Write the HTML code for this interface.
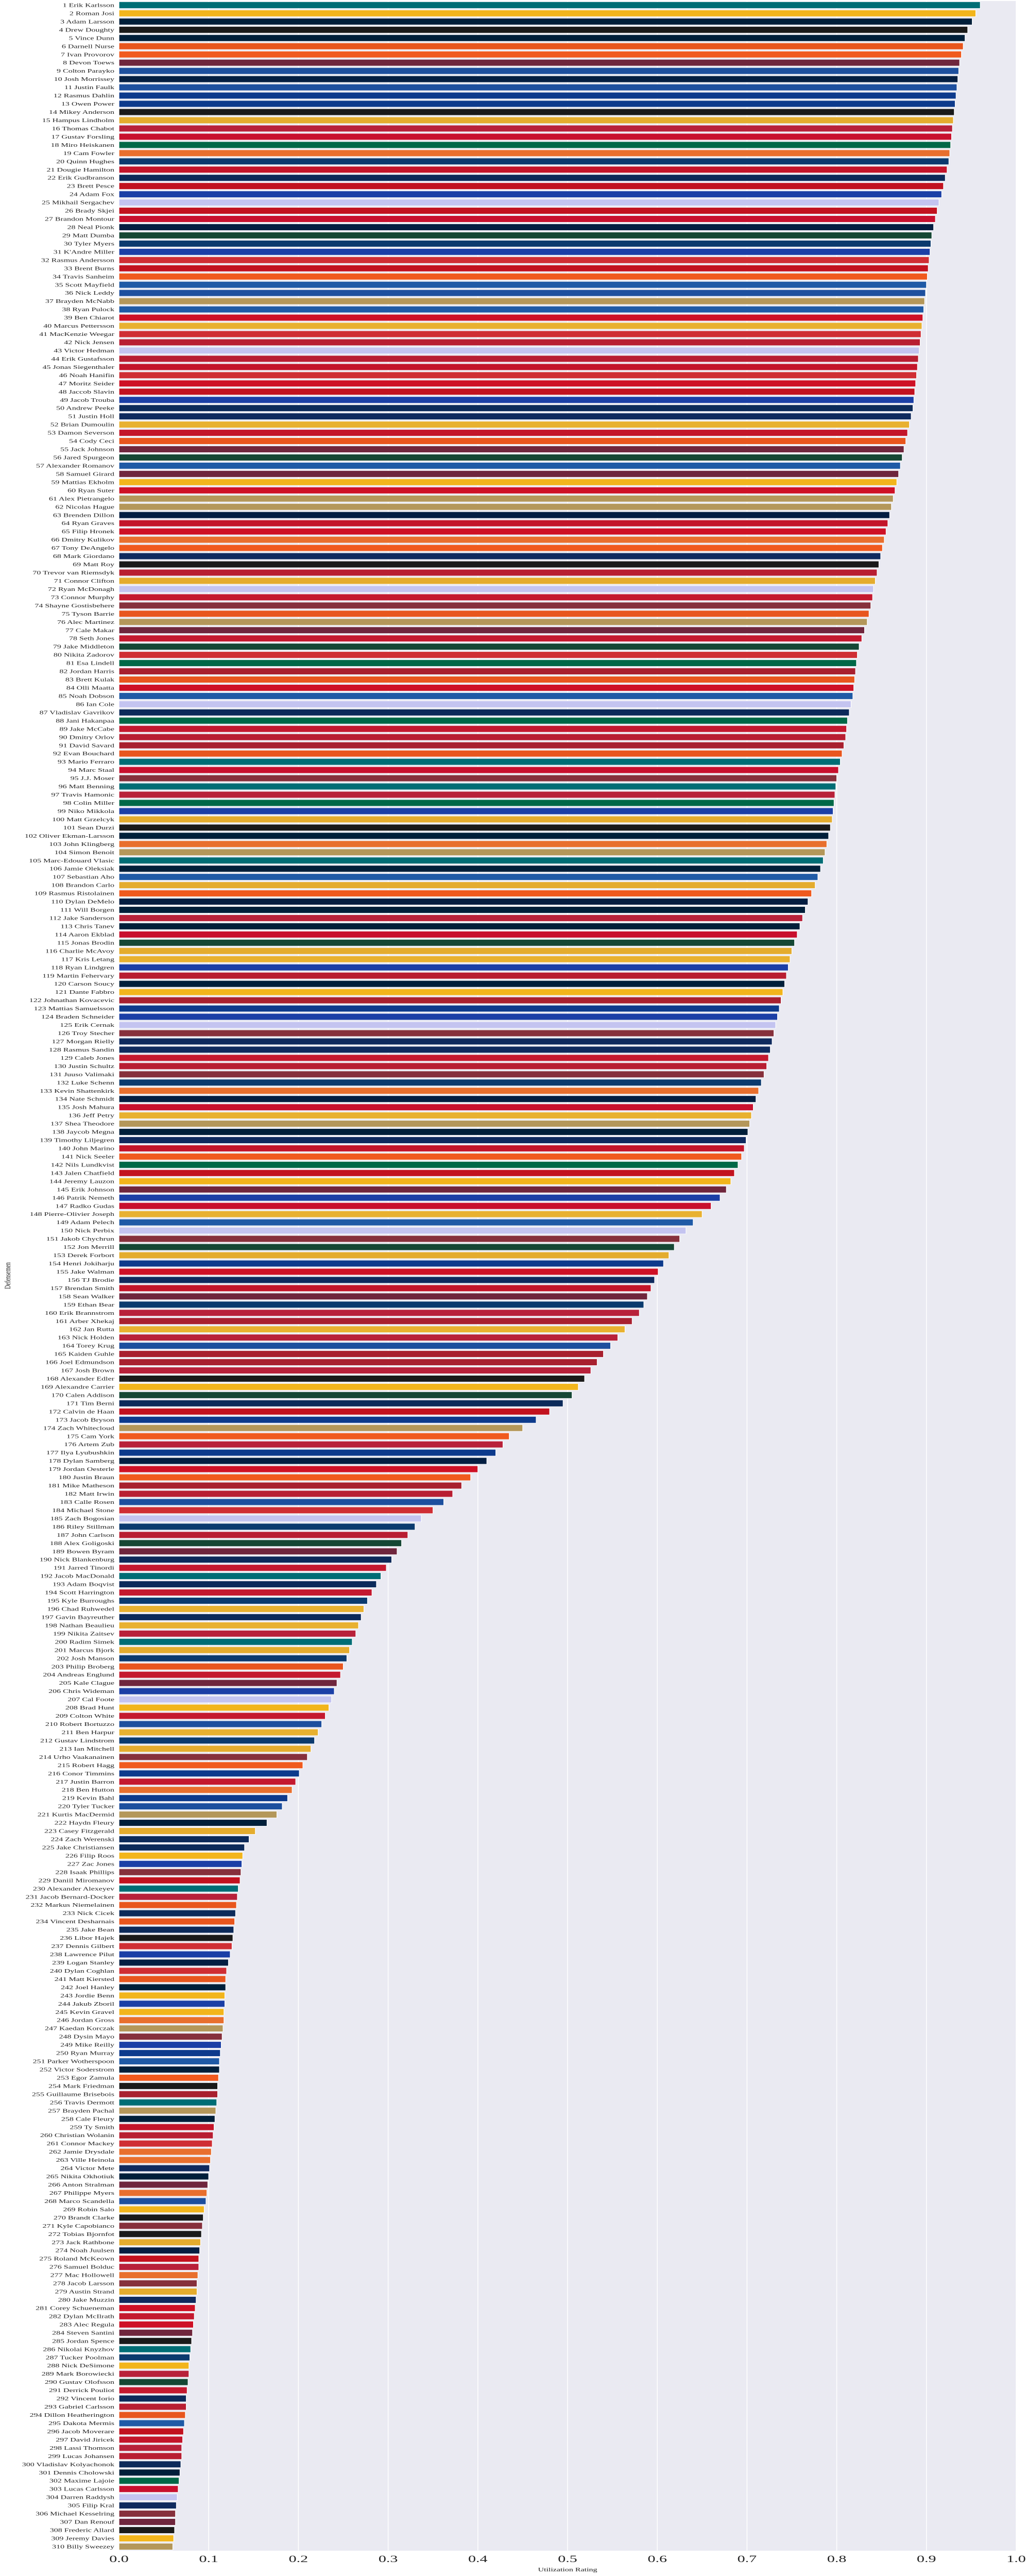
<!DOCTYPE html>
<html><head><meta charset="utf-8">
<style>
html,body{margin:0;padding:0;background:#fff;width:100%;height:100%;overflow:hidden;}
svg{display:block;width:100vw;height:100vh;font-family:"Liberation Serif","Times New Roman",serif;}
</style></head>
<body>
<svg id="chart" xmlns="http://www.w3.org/2000/svg" viewBox="0 0 1994 7734" preserveAspectRatio="none">
<rect x="231" y="3" width="1742" height="7655" fill="#EAEAF2"/>
<g id="grid"></g>
<g id="bars"></g>
<g id="ylabels"></g>
<g id="xticks"></g>
<text x="1102" y="7720" font-size="16" text-anchor="middle" fill="#222">Utilization Rating</text>
<text x="20" y="3830" font-size="16" text-anchor="middle" fill="#222" transform="rotate(-90 20 3830)">Defensemen</text>
</svg>
<script>
const players = ["Erik Karlsson","Roman Josi","Adam Larsson","Drew Doughty","Vince Dunn","Darnell Nurse","Ivan Provorov","Devon Toews","Colton Parayko","Josh Morrissey",
"Justin Faulk","Rasmus Dahlin","Owen Power","Mikey Anderson","Hampus Lindholm","Thomas Chabot","Gustav Forsling","Miro Heiskanen","Cam Fowler","Quinn Hughes",
"Dougie Hamilton","Erik Gudbranson","Brett Pesce","Adam Fox","Mikhail Sergachev","Brady Skjei","Brandon Montour","Neal Pionk","Matt Dumba","Tyler Myers",
"K'Andre Miller","Rasmus Andersson","Brent Burns","Travis Sanheim","Scott Mayfield","Nick Leddy","Brayden McNabb","Ryan Pulock","Ben Chiarot","Marcus Pettersson",
"MacKenzie Weegar","Nick Jensen","Victor Hedman","Erik Gustafsson","Jonas Siegenthaler","Noah Hanifin","Moritz Seider","Jaccob Slavin","Jacob Trouba","Andrew Peeke",
"Justin Holl","Brian Dumoulin","Damon Severson","Cody Ceci","Jack Johnson","Jared Spurgeon","Alexander Romanov","Samuel Girard","Mattias Ekholm","Ryan Suter",
"Alex Pietrangelo","Nicolas Hague","Brenden Dillon","Ryan Graves","Filip Hronek","Dmitry Kulikov","Tony DeAngelo","Mark Giordano","Matt Roy","Trevor van Riemsdyk",
"Connor Clifton","Ryan McDonagh","Connor Murphy","Shayne Gostisbehere","Tyson Barrie","Alec Martinez","Cale Makar","Seth Jones","Jake Middleton","Nikita Zadorov",
"Esa Lindell","Jordan Harris","Brett Kulak","Olli Maatta","Noah Dobson","Ian Cole","Vladislav Gavrikov","Jani Hakanpaa","Jake McCabe","Dmitry Orlov",
"David Savard","Evan Bouchard","Mario Ferraro","Marc Staal","J.J. Moser","Matt Benning","Travis Hamonic","Colin Miller","Niko Mikkola","Matt Grzelcyk",
"Sean Durzi","Oliver Ekman-Larsson","John Klingberg","Simon Benoit","Marc-Edouard Vlasic","Jamie Oleksiak","Sebastian Aho","Brandon Carlo","Rasmus Ristolainen","Dylan DeMelo",
"Will Borgen","Jake Sanderson","Chris Tanev","Aaron Ekblad","Jonas Brodin","Charlie McAvoy","Kris Letang","Ryan Lindgren","Martin Fehervary","Carson Soucy",
"Dante Fabbro","Johnathan Kovacevic","Mattias Samuelsson","Braden Schneider","Erik Cernak","Troy Stecher","Morgan Rielly","Rasmus Sandin","Caleb Jones","Justin Schultz",
"Juuso Valimaki","Luke Schenn","Kevin Shattenkirk","Nate Schmidt","Josh Mahura","Jeff Petry","Shea Theodore","Jaycob Megna","Timothy Liljegren","John Marino",
"Nick Seeler","Nils Lundkvist","Jalen Chatfield","Jeremy Lauzon","Erik Johnson","Patrik Nemeth","Radko Gudas","Pierre-Olivier Joseph","Adam Pelech","Nick Perbix",
"Jakob Chychrun","Jon Merrill","Derek Forbort","Henri Jokiharju","Jake Walman","TJ Brodie","Brendan Smith","Sean Walker","Ethan Bear","Erik Brannstrom",
"Arber Xhekaj","Jan Rutta","Nick Holden","Torey Krug","Kaiden Guhle","Joel Edmundson","Josh Brown","Alexander Edler","Alexandre Carrier","Calen Addison",
"Tim Berni","Calvin de Haan","Jacob Bryson","Zach Whitecloud","Cam York","Artem Zub","Ilya Lyubushkin","Dylan Samberg","Jordan Oesterle","Justin Braun",
"Mike Matheson","Matt Irwin","Calle Rosen","Michael Stone","Zach Bogosian","Riley Stillman","John Carlson","Alex Goligoski","Bowen Byram","Nick Blankenburg",
"Jarred Tinordi","Jacob MacDonald","Adam Boqvist","Scott Harrington","Kyle Burroughs","Chad Ruhwedel","Gavin Bayreuther","Nathan Beaulieu","Nikita Zaitsev","Radim Simek",
"Marcus Bjork","Josh Manson","Philip Broberg","Andreas Englund","Kale Clague","Chris Wideman","Cal Foote","Brad Hunt","Colton White","Robert Bortuzzo",
"Ben Harpur","Gustav Lindstrom","Ian Mitchell","Urho Vaakanainen","Robert Hagg","Conor Timmins","Justin Barron","Ben Hutton","Kevin Bahl","Tyler Tucker",
"Kurtis MacDermid","Haydn Fleury","Casey Fitzgerald","Zach Werenski","Jake Christiansen","Filip Roos","Zac Jones","Isaak Phillips","Daniil Miromanov","Alexander Alexeyev",
"Jacob Bernard-Docker","Markus Niemelainen","Nick Cicek","Vincent Desharnais","Jake Bean","Libor Hajek","Dennis Gilbert","Lawrence Pilut","Logan Stanley","Dylan Coghlan",
"Matt Kiersted","Joel Hanley","Jordie Benn","Jakub Zboril","Kevin Gravel","Jordan Gross","Kaedan Korczak","Dysin Mayo","Mike Reilly","Ryan Murray",
"Parker Wotherspoon","Victor Soderstrom","Egor Zamula","Mark Friedman","Guillaume Brisebois","Travis Dermott","Brayden Pachal","Cale Fleury","Ty Smith","Christian Wolanin",
"Connor Mackey","Jamie Drysdale","Ville Heinola","Victor Mete","Nikita Okhotiuk","Anton Stralman","Philippe Myers","Marco Scandella","Robin Salo","Brandt Clarke",
"Kyle Capobianco","Tobias Bjornfot","Jack Rathbone","Noah Juulsen","Roland McKeown","Samuel Bolduc","Mac Hollowell","Jacob Larsson","Austin Strand","Jake Muzzin",
"Corey Schueneman","Dylan McIlrath","Alec Regula","Steven Santini","Jordan Spence","Nikolai Knyzhov","Tucker Poolman","Nick DeSimone","Mark Borowiecki","Gustav Olofsson",
"Derrick Pouliot","Vincent Iorio","Gabriel Carlsson","Dillon Heatherington","Dakota Mermis","Jacob Moverare","David Jiricek","Lassi Thomson","Lucas Johansen","Vladislav Kolyachonok",
"Dennis Cholowski","Maxime Lajoie","Lucas Carlsson","Darren Raddysh","Filip Kral","Michael Kesselring","Dan Renouf","Frederic Allard","Jeremy Davies","Billy Sweezey"];

const ratings = [.960,.955,.951,.946,.943,.941,.939,.937,.936,.935,
.934,.933,.932,.931,.930,.929,.928,.927,.926,.925,
.923,.921,.919,.917,.914,.912,.910,.908,.906,.905,
.904,.903,.902,.901,.900,.899,.898,.897,.896,.895,
.894,.893,.892,.891,.890,.889,.888,.887,.886,.885,
.883,.881,.879,.877,.875,.873,.871,.869,.867,.865,
.863,.861,.859,.857,.855,.853,.851,.849,.847,.845,
.843,.841,.840,.838,.836,.834,.831,.828,.825,.823,
.822,.821,.820,.819,.818,.816,.814,.812,.811,.810,
.808,.806,.804,.802,.800,.799,.798,.797,.796,.795,
.793,.791,.789,.787,.785,.782,.779,.776,.772,.768,
.765,.762,.759,.756,.753,.750,.748,.746,.744,.742,
.740,.738,.736,.734,.732,.730,.728,.726,.724,.722,
.719,.716,.713,.710,.707,.705,.703,.701,.699,.697,
.694,.690,.686,.682,.677,.670,.660,.650,.640,.632,
.625,.619,.613,.607,.601,.597,.593,.589,.585,.580,
.572,.564,.556,.548,.540,.533,.526,.519,.512,.505,
.495,.480,.465,.450,.435,.428,.420,.410,.400,.392,
.382,.372,.362,.350,.337,.330,.322,.315,.310,.304,
.298,.292,.287,.282,.277,.273,.270,.267,.264,.260,
.257,.254,.250,.247,.243,.240,.237,.234,.230,.226,
.222,.218,.214,.210,.205,.201,.197,.193,.188,.182,
.176,.165,.152,.145,.140,.138,.137,.136,.135,.133,
.132,.131,.130,.129,.128,.127,.126,.124,.122,.120,
.119,.119,.118,.118,.117,.117,.116,.115,.114,.113,
.112,.112,.111,.110,.110,.109,.108,.107,.106,.105,
.104,.103,.102,.101,.100,.099,.098,.097,.095,.094,
.093,.092,.091,.090,.089,.089,.088,.087,.087,.086,
.085,.084,.083,.082,.081,.080,.079,.078,.078,.077,
.076,.075,.075,.074,.073,.072,.071,.070,.070,.069,
.068,.067,.066,.065,.064,.063,.063,.062,.061,.060];

const teams = ["SJ","NSH","SEA","LA","SEA","EDM","PHI","COL","STL","WPG",
"STL","BUF","BUF","LA","BOS","OTT","FLA","DAL","ANA","VAN",
"NJ","CBJ","CAR","NYR","TB","CAR","FLA","WPG","MIN","VAN",
"NYR","CGY","CAR","PHI","NYI","STL","VGK","NYI","DET","PIT",
"CGY","WSH","TB","WSH","NJ","CGY","DET","CAR","NYR","CBJ",
"TOR","PIT","NJ","EDM","COL","MIN","NYI","COL","NSH","DET",
"VGK","VGK","WPG","NJ","DET","ANA","PHI","TOR","LA","WSH",
"BOS","TB","CHI","ARI","EDM","VGK","COL","CHI","MIN","CGY",
"DAL","MTL","EDM","DET","NYI","TB","CBJ","DAL","CHI","WSH",
"MTL","EDM","SJ","FLA","ARI","SJ","OTT","DAL","NYR","BOS",
"LA","SEA","ANA","VGK","SJ","SEA","NYI","BOS","PHI","WPG",
"SEA","OTT","SEA","FLA","MIN","BOS","PIT","NYR","WSH","SEA",
"NSH","MTL","BUF","NYR","TB","ARI","TOR","TOR","CHI","WSH",
"ARI","VAN","ANA","WPG","FLA","PIT","VGK","SEA","TOR","NJ",
"PHI","DAL","CAR","NSH","COL","NYR","FLA","PIT","NYI","TB",
"ARI","MIN","BOS","BUF","DET","TOR","NJ","COL","VAN","OTT",
"MTL","PIT","OTT","STL","MTL","MTL","OTT","LA","NSH","MIN",
"CBJ","CAR","BUF","VGK","PHI","OTT","BUF","WPG","DET","PHI",
"MTL","WSH","STL","CGY","TB","VAN","WSH","MIN","COL","CBJ",
"CHI","SJ","CBJ","CHI","VAN","PIT","CBJ","PIT","OTT","SJ",
"BOS","VAN","EDM","CHI","COL","NYR","TB","NSH","CHI","STL",
"PIT","VAN","BOS","ARI","PHI","BUF","CHI","ANA","BUF","STL",
"VGK","SEA","BOS","CBJ","CBJ","NSH","NYR","ARI","CAR","SJ",
"OTT","EDM","CBJ","EDM","CBJ","LA","CGY","NYR","WPG","CGY",
"EDM","SEA","NSH","NYR","NSH","ANA","VGK","ARI","NYR","BUF",
"NYI","SEA","PHI","LA","MTL","SJ","VGK","SEA","NJ","WSH",
"CGY","ANA","ANA","TOR","SEA","COL","ANA","STL","NSH","LA",
"ARI","LA","BOS","WPG","CAR","OTT","ANA","ARI","BOS","TOR",
"DET","CHI","DET","COL","LA","SJ","VAN","NSH","OTT","MIN",
"CHI","CBJ","WSH","EDM","NYI","CAR","NJ","OTT","WSH","CBJ",
"SEA","DAL","FLA","TB","TOR","ARI","COL","LA","NSH","VGK"];

const teamColors = {SJ:"#006D75",NSH:"#F2B51C",SEA:"#001F3A",LA:"#1A1A1A",EDM:"#E8561E",PHI:"#F05A1E",
COL:"#6F263D",STL:"#1D4F9E",WPG:"#041E42",BUF:"#0D3A8C",BOS:"#E4AC2E",OTT:"#B8213A",FLA:"#C8102E",
DAL:"#006847",ANA:"#E86F2E",VAN:"#0B3A6E",NJ:"#C3152A",CBJ:"#0C2A5A",CAR:"#C2121F",NYR:"#1B3FA6",
TB:"#C4C4F0",MIN:"#154734",CGY:"#CF2E34",NYI:"#1F5AA6",VGK:"#B4975A",DET:"#CE1126",PIT:"#E8B130",
TOR:"#0F2A5E",WSH:"#B81E32",CHI:"#C4192F",ARI:"#86303C",MTL:"#A8202F"};

const ticks = [0,0.1,0.2,0.3,0.4,0.5,0.6,0.7,0.8,0.9,1.0];
const tickLabels = ["0.0","0.1","0.2","0.3","0.4","0.5","0.6","0.7","0.8","0.9","1.0"];

const NS = "http://www.w3.org/2000/svg";
const X0 = 231, X1 = 1973, Y0 = 3, Y1 = 7658;
const xScale = v => X0 + v * (X1 - X0);
const band = (Y1 - Y0) / players.length;
const yScale = i => Y0 + i * band;

const grid = document.getElementById('grid');
const xt = document.getElementById('xticks');
ticks.forEach((t, k) => {
  const ln = document.createElementNS(NS, 'line');
  ln.setAttribute('x1', xScale(t)); ln.setAttribute('x2', xScale(t));
  ln.setAttribute('y1', Y0); ln.setAttribute('y2', Y1);
  ln.setAttribute('stroke', '#fff'); ln.setAttribute('stroke-width', '1.5');
  
  
  grid.appendChild(ln);
  const tx = document.createElementNS(NS, 'text');
  tx.setAttribute('x', xScale(t)); tx.setAttribute('y', 7692);
  tx.setAttribute('font-size', '30'); tx.setAttribute('text-anchor', 'middle'); tx.setAttribute('fill', '#222');
  tx.textContent = tickLabels[k];
  
  
  xt.appendChild(tx);
});

const bars = document.getElementById('bars');
const yl = document.getElementById('ylabels');
players.forEach((p, i) => {
  const y = yScale(i);
  const h = band * 0.8;
  const r = document.createElementNS(NS, 'rect');
  r.setAttribute('x', X0); r.setAttribute('y', y + band * 0.1);
  r.setAttribute('width', xScale(ratings[i]) - X0); r.setAttribute('height', h);
  r.setAttribute('fill', teamColors[teams[i]] || '#333');
  r.setAttribute('stroke', '#fff'); r.setAttribute('stroke-width', '1.2');
  
  
  bars.appendChild(r);
  const t = document.createElementNS(NS, 'text');
  t.setAttribute('x', 222); t.setAttribute('y', y + band / 2 + 5.5);
  t.setAttribute('font-size', '16'); t.setAttribute('text-anchor', 'end'); t.setAttribute('fill', '#222');
  t.textContent = (i + 1) + ' ' + p;
  
  
  yl.appendChild(t);
});
</script>
</body></html>
